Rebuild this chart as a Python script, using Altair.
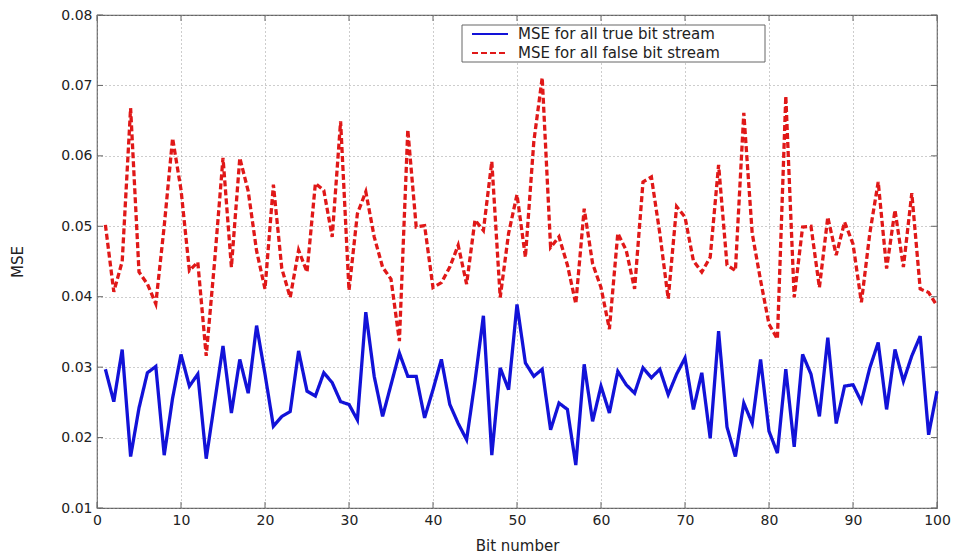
import altair as alt
import pandas as pd

# Bit index 1..100
bits = list(range(1, 101))

# MSE per bit, true bit stream
mse_true = [
    0.0297, 0.0251, 0.0325, 0.0173, 0.0242, 0.0292, 0.0301, 0.0175, 0.0256, 0.0318,
    0.0273, 0.0290, 0.0170, 0.0250, 0.0330, 0.0235, 0.0311, 0.0263, 0.0359, 0.0290,
    0.0216, 0.0230, 0.0237, 0.0323, 0.0266, 0.0259, 0.0292, 0.0278, 0.0251, 0.0247,
    0.0225, 0.0378, 0.0287, 0.0230, 0.0275, 0.0320, 0.0287, 0.0287, 0.0228, 0.0268,
    0.0311, 0.0247, 0.0220, 0.0197, 0.0280, 0.0373, 0.0175, 0.0299, 0.0268, 0.0389,
    0.0306, 0.0287, 0.0297, 0.0211, 0.0249, 0.0240, 0.0161, 0.0304, 0.0223, 0.0273,
    0.0235, 0.0294, 0.0275, 0.0263, 0.0299, 0.0285, 0.0297, 0.0261, 0.0290, 0.0313,
    0.0240, 0.0292, 0.0199, 0.0351, 0.0215, 0.0173, 0.0249, 0.0220, 0.0311, 0.0209,
    0.0178, 0.0297, 0.0187, 0.0318, 0.0290, 0.0230, 0.0342, 0.0220, 0.0273, 0.0275,
    0.0251, 0.0299, 0.0335, 0.0240, 0.0325, 0.0280, 0.0316, 0.0344, 0.0204, 0.0266,
]

# MSE per bit, false bit stream
mse_false = [
    0.0502, 0.0407, 0.0450, 0.0668, 0.0435, 0.0418, 0.0390, 0.0500, 0.0625, 0.0552,
    0.0437, 0.0449, 0.0316, 0.0450, 0.0597, 0.0442, 0.0597, 0.0550, 0.0465, 0.0411,
    0.0559, 0.0440, 0.0399, 0.0466, 0.0435, 0.0561, 0.0551, 0.0485, 0.0649, 0.0409,
    0.0518, 0.0549, 0.0485, 0.0442, 0.0425, 0.0337, 0.0637, 0.0499, 0.0501, 0.0413,
    0.0420, 0.0442, 0.0473, 0.0418, 0.0509, 0.0494, 0.0592, 0.0399, 0.0490, 0.0545,
    0.0456, 0.0620, 0.0711, 0.0470, 0.0485, 0.0445, 0.0390, 0.0525, 0.0447, 0.0413,
    0.0354, 0.0490, 0.0466, 0.0411, 0.0563, 0.0570, 0.0490, 0.0397, 0.0528, 0.0513,
    0.0451, 0.0435, 0.0456, 0.0587, 0.0445, 0.0437, 0.0661, 0.0490, 0.0423, 0.0361,
    0.0340, 0.0685, 0.0399, 0.0499, 0.0500, 0.0413, 0.0513, 0.0459, 0.0506, 0.0475,
    0.0392, 0.0490, 0.0563, 0.0440, 0.0523, 0.0442, 0.0547, 0.0411, 0.0406, 0.0387,
]

series_names = ["MSE for all true bit stream", "MSE for all false bit stream"]
series_colors = ["#1212d8", "#e01818"]
series_dashes = [[1, 0], [6, 3]]
x_ticks = [0, 10, 20, 30, 40, 50, 60, 70, 80, 90, 100]
y_ticks = [0.01, 0.02, 0.03, 0.04, 0.05, 0.06, 0.07, 0.08]

W, H = 840, 493
FONT = "DejaVu Sans"
TEXT = "#222222"
FRAME = "#666666"

df = pd.DataFrame({
    "bit": bits * 2,
    "mse": mse_true + mse_false,
    "series": [series_names[0]] * len(bits) + [series_names[1]] * len(bits),
})

x_scale = alt.Scale(domain=[0, 100], nice=False, zero=False)
y_scale = alt.Scale(domain=[0.01, 0.08], nice=False, zero=False)
color_scale = alt.Scale(domain=series_names, range=series_colors)
dash_scale = alt.Scale(domain=series_names, range=series_dashes)

x_axis = alt.Axis(
    values=x_ticks, title="Bit number", format="d", ticks=False, domain=False,
    grid=True, gridColor="#9a9a9a", gridDash=[1, 3], gridWidth=1,
    labelFont=FONT, labelFontSize=14, labelColor=TEXT, labelPadding=5,
    labelFlush=False,
    titleFont=FONT, titleFontSize=15, titleFontWeight="normal", titleColor=TEXT,
    titleY=37, titleBaseline="middle",
)
y_axis = alt.Axis(
    values=y_ticks, title="MSE", format=".2f", ticks=False, domain=False,
    grid=True, gridColor="#9a9a9a", gridDash=[1, 3], gridWidth=1,
    labelFont=FONT, labelFontSize=14, labelColor=TEXT, labelPadding=5,
    labelFlush=False,
    titleFont=FONT, titleFontSize=15, titleFontWeight="normal", titleColor=TEXT,
    titleX=-80, titleY=H / 2, titleBaseline="middle", titleAlign="center",
)

lines = alt.Chart(df).mark_line(strokeWidth=3.3).encode(
    x=alt.X("bit:Q", scale=x_scale, axis=x_axis),
    y=alt.Y("mse:Q", scale=y_scale, axis=y_axis),
    color=alt.Color("series:N", scale=color_scale, legend=None),
    strokeDash=alt.StrokeDash("series:N", scale=dash_scale, legend=None),
    order=alt.Order("bit:Q"),
)

# Inward-pointing tick marks on all four sides of the box
xt = pd.DataFrame({"t": x_ticks})
yt = pd.DataFrame({"t": y_ticks})
tick_len = 6
bottom_ticks = alt.Chart(xt).mark_rule(color=FRAME, strokeWidth=1).encode(
    x=alt.X("t:Q", scale=x_scale), y=alt.value(H), y2=alt.value(H - tick_len))
top_ticks = alt.Chart(xt).mark_rule(color=FRAME, strokeWidth=1).encode(
    x=alt.X("t:Q", scale=x_scale), y=alt.value(0), y2=alt.value(tick_len))
left_ticks = alt.Chart(yt).mark_rule(color=FRAME, strokeWidth=1).encode(
    y=alt.Y("t:Q", scale=y_scale), x=alt.value(0), x2=alt.value(tick_len))
right_ticks = alt.Chart(yt).mark_rule(color=FRAME, strokeWidth=1).encode(
    y=alt.Y("t:Q", scale=y_scale), x=alt.value(W), x2=alt.value(W - tick_len))

# Boxed legend in the upper middle of the plot
LEG_X0, LEG_X1, LEG_Y0, LEG_Y1 = 365, 668, 10, 47
legend_box = alt.Chart(pd.DataFrame({"k": [0]})).mark_rect(
    fill="white", stroke=FRAME, strokeWidth=1
).encode(
    x=alt.value(LEG_X0), x2=alt.value(LEG_X1),
    y=alt.value(LEG_Y0), y2=alt.value(LEG_Y1),
)
legend_layers = [legend_box]
for i, name in enumerate(series_names):
    row_y = 19 + 19 * i
    entry = pd.DataFrame({"series": [name]})
    legend_layers.append(
        alt.Chart(entry).mark_rule(strokeWidth=2, strokeDash=series_dashes[i]).encode(
            x=alt.value(375), x2=alt.value(411), y=alt.value(row_y),
            color=alt.Color("series:N", scale=color_scale, legend=None),
        )
    )
    legend_layers.append(
        alt.Chart(entry).mark_text(
            align="left", baseline="middle", font=FONT, fontSize=15, color=TEXT
        ).encode(
            x=alt.value(421), y=alt.value(row_y), text="series:N",
        )
    )

chart = alt.layer(
    lines, bottom_ticks, top_ticks, left_ticks, right_ticks, *legend_layers
).properties(
    width=W,
    height=H,
    padding={"left": 97, "top": 15, "right": 17, "bottom": 48},
    autosize=alt.AutoSizeParams(type="none"),
    background="white",
).configure_view(
    stroke=FRAME, strokeWidth=1.2,
)

chart.save("out.html", embed_options={"renderer": "svg", "actions": False})
